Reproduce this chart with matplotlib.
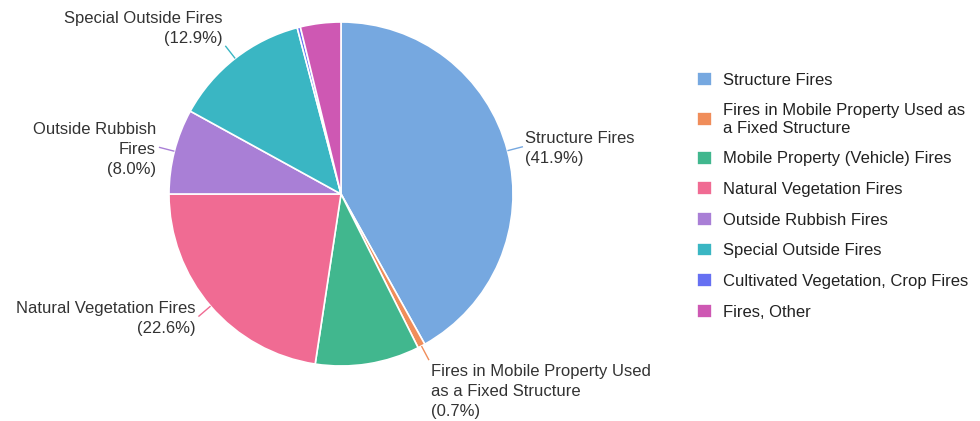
import numpy as np
import matplotlib
matplotlib.use('Agg')
import matplotlib.pyplot as plt

plt.rcParams['font.family'] = ['Liberation Sans', 'DejaVu Sans']

categories = ['Structure Fires',
              'Fires in Mobile Property Used as a Fixed Structure',
              'Mobile Property (Vehicle) Fires',
              'Natural Vegetation Fires',
              'Outside Rubbish Fires',
              'Special Outside Fires',
              'Cultivated Vegetation, Crop Fires',
              'Fires, Other']
shares = [41.9, 0.7, 9.8, 22.6, 8.0, 12.9, 0.3, 3.8]
colors = ['#76a8e0', '#f08d5a', '#41b78e', '#f06b93', '#a97fd6',
          '#3ab6c3', '#6670f2', '#ce58b3']
legend_labels = ['Structure Fires',
                 'Fires in Mobile Property Used as\na Fixed Structure',
                 'Mobile Property (Vehicle) Fires',
                 'Natural Vegetation Fires',
                 'Outside Rubbish Fires',
                 'Special Outside Fires',
                 'Cultivated Vegetation, Crop Fires',
                 'Fires, Other']
# slice labels (None = not labelled)
slice_labels = ['Structure Fires',
                'Fires in Mobile Property Used\nas a Fixed Structure',
                None,
                'Natural Vegetation Fires',
                'Outside Rubbish\nFires',
                'Special Outside Fires',
                None,
                None]

W, H = 980, 421
cx, cy, R = 341, H - 194, 172
FS = 12

fig = plt.figure(figsize=(W / 100, H / 100), dpi=100)
ax = fig.add_axes([0, 0, 1, 1])
ax.axis('off')

wedges, _ = ax.pie(shares, colors=colors, startangle=90, counterclock=False,
                   center=(cx, cy), radius=R,
                   wedgeprops=dict(edgecolor='white', linewidth=1.2))
ax.set_xlim(0, W)
ax.set_ylim(0, H)

cum = np.cumsum([0] + shares)
for i, lab in enumerate(slice_labels):
    if lab is None:
        continue
    mid = (cum[i] + cum[i + 1]) / 2 / 100 * 2 * np.pi
    sx, sy = np.sin(mid), np.cos(mid)
    x0, y0 = cx + R * sx, cy + R * sy
    x1, y1 = cx + 188 * sx, cy + 188 * sy
    ax.plot([x0, x1], [y0, y1], color=colors[i], lw=1.0, solid_capstyle='butt')
    ha = 'left' if sx > 0 else 'right'
    ty = y1
    if sy > 0.7:
        va = 'bottom'
    elif sy < -0.7:
        va = 'top'
        ty = y1 - 4
    else:
        va = 'center'
        ty = y1 - 2
    tx = x1 + (2 if sx > 0 else -3)
    ax.text(tx, ty, '%s\n(%.1f%%)' % (lab, shares[i]), ha=ha, va=va,
            multialignment=ha, fontsize=FS, color='#333333', linespacing=1.42)

leg = ax.legend(wedges, legend_labels, loc='upper left',
                bbox_to_anchor=(697, H - 72), bbox_transform=ax.transData,
                frameon=False, fontsize=FS, handlelength=0.9, handleheight=0.9,
                handletextpad=0.66, labelspacing=0.9, borderpad=0, borderaxespad=0)
for t in leg.get_texts():
    t.set_color('#222222')
    t.set_linespacing(1.25)

fig.savefig('out.png', dpi=100)
